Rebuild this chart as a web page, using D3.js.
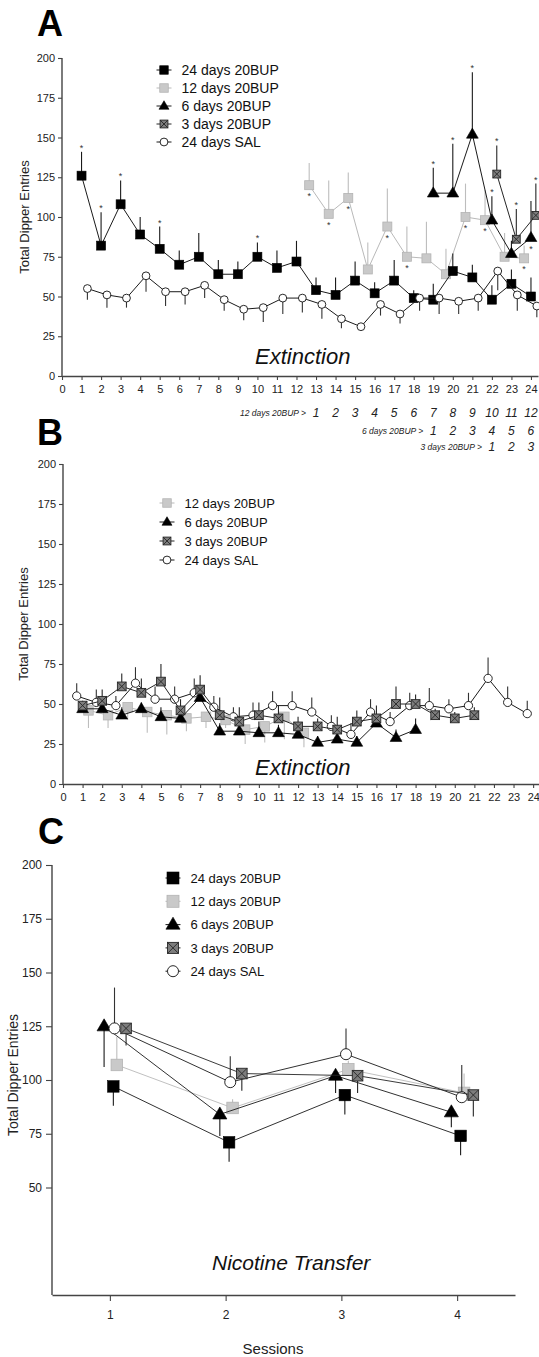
<!DOCTYPE html>
<html>
<head>
<meta charset="utf-8">
<script src="https://cdn.jsdelivr.net/npm/d3@7"></script>
<style>
  body { margin: 0; background: #fff; }
  svg { display: block; font-family: "Liberation Sans", Arial, sans-serif; }
</style>
</head>
<body>
<svg id="fig" width="539" height="1357"></svg>
<script>
// ---------- Panel A: extinction sessions 1-24 ----------
const sessA = d3.range(1, 25);
const a24Mean = [126, 82, 108, 89, 80, 70, 75, 64, 64, 75, 68, 72, 54, 51, 60, 52, 60, 49, 48, 66, 62, 48, 58, 50];
const a24Sem  = [15, 21, 15, 11, 14, 9, 15, 9, 8, 9, 11, 13, 8, 11, 12, 7, 13, 5, 10, 11, 8, 9, 9, 12];
const a12Sess = d3.range(13, 25);
const a12Mean = [120, 102, 112, 67, 94, 75, 74, 64, 100, 98, 75, 74];
const a12Sem  = [14, 21, 16, 17, 24, 19, 23, 16, 21, 19, 15, 8];
const a6Sess  = d3.range(19, 25);
const a6Mean  = [115, 115, 152, 98, 77, 87];
const a6Sem   = [16, 31, 39, 15, 8, 23];
const a3Sess  = [22, 23, 24];
const a3Mean  = [127, 86, 101];
const a3Sem   = [18, 19, 20];
const salMean = [55, 51, 49, 63, 53, 53, 57, 48, 42, 43, 49, 49, 45, 36, 31, 45, 39, 49, 49, 47, 49, 66, 51, 44];
const salSemA = [7, 8, 6, 10, 9, 8, 8, 7, 7, 9, 10, 9, 9, 6, 2, 7, 6, 8, 10, 8, 8, 12, 10, 7];
const salSemB = [8, 8, 6, 10, 8, 8, 9, 7, 6, 8, 9, 9, 9, 7, 7, 8, 6, 8, 11, 6, 8, 13, 10, 8];
// significance marks
const starsA = [
  { key: "b24", where: "above", sessions: [1, 2, 3, 5, 10] },
  { key: "b12", where: "below", sessions: [13, 14, 15, 17, 18, 21, 22, 24] },
  { key: "b6",  where: "above", sessions: [19, 20, 21, 22] },
  { key: "b6",  where: "below", sessions: [24] },
  { key: "b3",  where: "above", sessions: [22, 23, 24] }
];
// session numbering of the shorter treatment groups
const rowLabels = ["12 days 20BUP >", "6 days 20BUP >", "3 days 20BUP >"];
const rowStart  = [13, 19, 22];

// ---------- Panel B: extinction after shorter treatments ----------
const b12Sess = d3.range(1, 13);
const b12Mean = [46, 43, 48, 45, 43, 41, 42, 40, 34, 36, 42, 32];
const b12Sem  = [11, 8, 8, 13, 12, 8, 7, 5, 9, 10, 14, 9];
const b6Sess  = d3.range(1, 19);
const b6Mean  = [47, 47, 43, 47, 42, 41, 54, 33, 33, 32, 32, 31, 26, 28, 26, 38, 29, 34];
const b6Sem   = [3, 4, 5, 4, 6, 5, 7, 5, 7, 7, 5, 5, 4, 6, 4, 5, 5, 7];
const b3Sess  = d3.range(1, 22);
const b3Mean  = [49, 52, 61, 57, 64, 46, 59, 43, 39, 43, 41, 36, 36, 34, 39, 41, 50, 50, 43, 41, 43];
const b3Sem   = [3, 7, 8, 9, 11, 7, 9, 11, 9, 8, 8, 6, 5, 8, 7, 8, 11, 6, 4, 4, 5];

// ---------- Panel C: nicotine transfer ----------
const sessC   = [1, 2, 3, 4];
const c24Mean = [97, 71, 93, 74];
const c24Sem  = [9, 9, 9, 9];
const c12Mean = [107, 87, 105, 94];
const c12Sem  = [13, 4, 4, 9];
const c6Mean  = [125, 84, 102, 85];
const c6Sem   = [19, 10, 8, 7];
const c3Mean  = [124, 103, 102, 93];
const c3Sem   = [8, 8, 8, 10];
const cSalMean = [124, 99, 112, 92];
const cSalSem  = [19, 12, 12, 15];

const yTicks = d3.range(0, 201, 25);

// ---------- styles ----------
const style = {
  b24: { name: "24 days 20BUP", shape: "sqBlack", line: "#1a1a1a", err: "#1a1a1a" },
  b12: { name: "12 days 20BUP", shape: "sqGray",  line: "#b9b9b9", err: "#bdbdbd" },
  b6:  { name: "6 days 20BUP",  shape: "tri",     line: "#1a1a1a", err: "#1a1a1a" },
  b3:  { name: "3 days 20BUP",  shape: "sqX",     line: "#262626", err: "#262626" },
  sal: { name: "24 days SAL",   shape: "circ",    line: "#1a1a1a", err: "#333" }
};

const svg = d3.select("#fig");
svg.append("rect").attr("width", 539).attr("height", 1357).attr("fill", "#fff");

function drawMarker(g, shape, s) {
  const h = s / 2;
  if (shape === "sqBlack") {
    g.append("rect").attr("x", -h).attr("y", -h).attr("width", s).attr("height", s)
      .attr("fill", "#000").attr("stroke", "#000").attr("stroke-width", 0.6);
  } else if (shape === "sqGray") {
    g.append("rect").attr("x", -h).attr("y", -h).attr("width", s).attr("height", s)
      .attr("fill", "#c9c9c9").attr("stroke", "#b3b3b3").attr("stroke-width", 0.8);
  } else if (shape === "tri") {
    const r = s * 0.62;
    g.append("path").attr("d", `M0,${-r}L${r * 0.95},${r * 0.62}L${-r * 0.95},${r * 0.62}Z`)
      .attr("fill", "#000").attr("stroke", "#000").attr("stroke-width", 0.6);
  } else if (shape === "sqX") {
    const k = h * 0.92;
    g.append("rect").attr("x", -k).attr("y", -k).attr("width", 2 * k).attr("height", 2 * k)
      .attr("fill", "#7d7d7d").attr("stroke", "#262626").attr("stroke-width", 0.9);
    g.append("path").attr("d", `M${-k},${-k}L${k},${k}M${k},${-k}L${-k},${k}`)
      .attr("stroke", "#262626").attr("stroke-width", 0.9);
  } else if (shape === "circ") {
    g.append("circle").attr("r", h * 0.92).attr("fill", "#fff")
      .attr("stroke", "#111").attr("stroke-width", 0.9);
  }
}

function drawSeries(g, x, y, ser, size) {
  const st = style[ser.key];
  const pts = ser.sessions.map((s, i) => ({
    s, v: ser.mean[i], e: ser.sem[i], px: x(s + ser.dx), py: y(ser.mean[i])
  }));
  g.append("path").datum(pts)
    .attr("d", d3.line().x(d => d.px).y(d => d.py))
    .attr("fill", "none").attr("stroke", st.line).attr("stroke-width", ser.lw || 1);
  g.selectAll(null).data(pts).join("line")
    .attr("x1", d => d.px).attr("x2", d => d.px)
    .attr("y1", d => d.py)
    .attr("y2", d => y(ser.dir === "down" ? d.v - d.e : d.v + d.e))
    .attr("stroke", st.err).attr("stroke-width", 1.1);
  pts.forEach(d => {
    const m = g.append("g").attr("transform", `translate(${d.px},${d.py})`);
    drawMarker(m, st.shape, size);
  });
  return pts;
}

function drawLegend(g, keys, x0, y0, dy, size, fs, lineLen) {
  keys.forEach((k, i) => {
    const cy = y0 + i * dy;
    g.append("line").attr("x1", x0 - lineLen / 2).attr("x2", x0 + lineLen / 2)
      .attr("y1", cy).attr("y2", cy).attr("stroke", style[k].line).attr("stroke-width", 1);
    const m = g.append("g").attr("transform", `translate(${x0},${cy})`);
    drawMarker(m, style[k].shape, size);
    g.append("text").attr("x", x0 + lineLen / 2 + 10).attr("y", cy + fs * 0.36)
      .attr("font-size", fs).attr("fill", "#111").text(style[k].name);
  });
}

function axes(g, x, y, xTicks, yTickVals, o) {
  const ax = d3.axisBottom(x).tickValues(xTicks).tickFormat(d3.format("d"))
    .tickSize(o.tick).tickSizeOuter(0).tickPadding(o.xPad);
  const gx = g.append("g").attr("transform", `translate(0,${y(0)})`).call(ax);
  const ay = d3.axisLeft(y).tickValues(yTickVals).tickFormat(d3.format("d"))
    .tickSize(o.tick).tickSizeOuter(0).tickPadding(o.yPad);
  const gy = g.append("g").attr("transform", `translate(${x.range()[0]},0)`).call(ay);
  [gx, gy].forEach(a => {
    a.selectAll("path.domain").attr("stroke", "#444").attr("stroke-width", 1.4);
    a.selectAll(".tick line").attr("stroke", "#444").attr("stroke-width", 1.1);
    a.selectAll(".tick text").attr("font-size", o.fs).attr("fill", "#222")
      .attr("font-family", '"Liberation Sans", Arial, sans-serif');
  });
  gy.select("path.domain").attr("d", `M0,${y(0)}V${y(y.domain()[1])}`);
  return gx;
}

function yTitle(g, x, y, fs) {
  g.append("text").attr("transform", `translate(${x},${y}) rotate(-90)`)
    .attr("text-anchor", "middle").attr("font-size", fs).attr("fill", "#222")
    .text("Total Dipper Entries");
}

function panelLetter(g, t, x, y) {
  g.append("text").attr("x", x).attr("y", y).attr("font-size", 36)
    .attr("font-weight", "bold").attr("fill", "#000").text(t);
}

function italicNote(g, t, x, y, fs) {
  g.append("text").attr("x", x).attr("y", y).attr("font-size", fs)
    .attr("font-style", "italic").attr("fill", "#111").text(t);
}

// ================= Panel A =================
{
  const g = svg.append("g");
  const x = d3.scaleLinear().domain([0, 24.36]).range([62, 538]);
  const y = d3.scaleLinear().domain([0, 200]).range([376, 58]);
  panelLetter(g, "A", 37, 36);
  axes(g, x, y, d3.range(0, 25), yTicks, { tick: 4, xPad: 5, yPad: 3, fs: 11 });
  yTitle(g, 29, 217, 13);
  italicNote(g, "Extinction", 255, 364, 22);

  const ser = {
    b24: { key: "b24", sessions: sessA,   mean: a24Mean, sem: a24Sem,  dir: "up",   dx: 0 },
    b12: { key: "b12", sessions: a12Sess, mean: a12Mean, sem: a12Sem,  dir: "up",   dx: -0.35 },
    b6:  { key: "b6",  sessions: a6Sess,  mean: a6Mean,  sem: a6Sem,   dir: "up",   dx: 0 },
    b3:  { key: "b3",  sessions: a3Sess,  mean: a3Mean,  sem: a3Sem,   dir: "up",   dx: 0.25 },
    sal: { key: "sal", sessions: sessA,   mean: salMean, sem: salSemA, dir: "down", dx: 0.3 }
  };
  const sizes = { b24: 9, b12: 9, b6: 10, b3: 8.5, sal: 8.5 };
  ["b12", "b24", "b6", "b3", "sal"].forEach(k => drawSeries(g, x, y, ser[k], sizes[k]));

  starsA.forEach(st => {
    const s = ser[st.key];
    st.sessions.forEach(sess => {
      const i = s.sessions.indexOf(sess);
      const px = x(sess + s.dx);
      const cy = st.where === "above" ? y(s.mean[i] + s.sem[i]) - 6 : y(s.mean[i]) + 9;
      g.append("text").attr("x", px).attr("y", cy + 5).attr("text-anchor", "middle")
        .attr("font-size", 9).attr("fill", "#333").text("*");
    });
  });

  drawLegend(g, ["b24", "b12", "b6", "b3", "sal"], 164, 70, 18, 8.5, 14, 15);

  // session numbers of the shorter groups
  const rowY = [416, 434, 450];
  rowLabels.forEach((lab, r) => {
    g.append("text").attr("x", x(rowStart[r]) - 10).attr("y", rowY[r])
      .attr("text-anchor", "end").attr("font-size", 8.5).attr("font-style", "italic")
      .attr("fill", "#222").text(lab);
    d3.range(rowStart[r], 25).forEach((sess, i) => {
      g.append("text").attr("x", x(sess)).attr("y", rowY[r] + 1)
        .attr("text-anchor", "middle").attr("font-size", 12).attr("font-style", "italic")
        .attr("fill", "#222").text(i + 1);
    });
  });
}

// ================= Panel B =================
{
  const g = svg.append("g");
  const x = d3.scaleLinear().domain([0, 24.3]).range([63, 539]);
  const y = d3.scaleLinear().domain([0, 200]).range([784, 464]);
  panelLetter(g, "B", 37, 445);
  const gx = axes(g, x, y, d3.range(0, 25), yTicks, { tick: 4, xPad: 5, yPad: 3, fs: 11 });
  // keep the last tick label inside the frame
  gx.selectAll(".tick text").filter(d => d === 24).attr("text-anchor", "end").attr("dx", "6.3");
  yTitle(g, 28, 624, 13);
  italicNote(g, "Extinction", 255, 775, 22);

  const ser = {
    sal: { key: "sal", sessions: sessA,   mean: salMean, sem: salSemB, dir: "up",   dx: -0.3 },
    b12: { key: "b12", sessions: b12Sess, mean: b12Mean, sem: b12Sem,  dir: "down", dx: 0.3 },
    b6:  { key: "b6",  sessions: b6Sess,  mean: b6Mean,  sem: b6Sem,   dir: "up",   dx: 0 },
    b3:  { key: "b3",  sessions: b3Sess,  mean: b3Mean,  sem: b3Sem,   dir: "up",   dx: 0 }
  };
  const sizes = { b12: 9.5, b6: 10, b3: 9.5, sal: 9 };
  ["sal", "b12", "b6", "b3"].forEach(k => drawSeries(g, x, y, ser[k], sizes[k]));

  drawLegend(g, ["b12", "b6", "b3", "sal"], 167, 503, 19, 8.5, 13, 15);
}

// ================= Panel C =================
{
  const g = svg.append("g");
  const x = d3.scaleLinear().domain([0.5, 4.5]).range([52, 515]);
  const y = d3.scaleLinear().domain([0, 200]).range([1295, 865]);
  panelLetter(g, "C", 38, 844);
  axes(g, x, y, sessC, d3.range(50, 201, 25), { tick: 6, xPad: 9, yPad: 4, fs: 12 });
  yTitle(g, 18, 1075, 14);
  italicNote(g, "Nicotine Transfer", 212, 1270, 21);
  g.append("text").attr("x", 273).attr("y", 1354).attr("text-anchor", "middle")
    .attr("font-size", 15).attr("fill", "#222").text("Sessions");

  const ser = {
    b24: { key: "b24", sessions: sessC, mean: c24Mean,  sem: c24Sem,  dir: "down", dx: 0.03 },
    b12: { key: "b12", sessions: sessC, mean: c12Mean,  sem: c12Sem,  dir: "up",   dx: 0.06 },
    b6:  { key: "b6",  sessions: sessC, mean: c6Mean,   sem: c6Sem,   dir: "down", dx: -0.05 },
    b3:  { key: "b3",  sessions: sessC, mean: c3Mean,   sem: c3Sem,   dir: "down", dx: 0.14 },
    sal: { key: "sal", sessions: sessC, mean: cSalMean, sem: cSalSem, dir: "up",   dx: 0.04 }
  };
  const sizes = { b24: 11.5, b12: 11.5, b6: 12, b3: 11.5, sal: 12 };
  ["b24", "b12", "b6", "sal", "b3"].forEach(k => { ser[k].lw = 0.9; drawSeries(g, x, y, ser[k], sizes[k]); });

  drawLegend(g, ["b24", "b12", "b6", "b3", "sal"], 173, 878, 23.3, 12, 13, 15);
}
</script>
</body>
</html>
